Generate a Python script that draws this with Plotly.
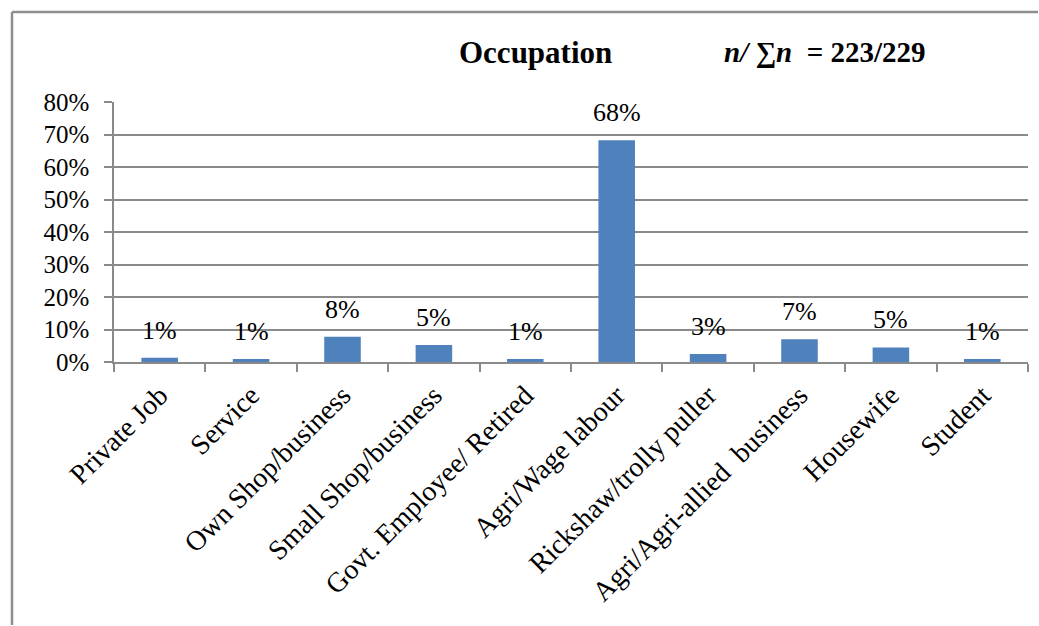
import plotly.graph_objects as go

categories = ["Private Job", "Service", "Own Shop/business", "Small Shop/business",
              "Govt. Employee/ Retired", "Agri/Wage labour", "Rickshaw/trolly puller",
              "Agri/Agri-allied  business", "Housewife", "Student"]
values = [0.013, 0.009, 0.078, 0.052, 0.009, 0.682, 0.025, 0.070, 0.045, 0.009]
value_labels = ["1%", "1%", "8%", "5%", "1%", "68%", "3%", "7%", "5%", "1%"]
y_ticks = [0, 0.1, 0.2, 0.3, 0.4, 0.5, 0.6, 0.7, 0.8]
y_tick_labels = ["0%", "10%", "20%", "30%", "40%", "50%", "60%", "70%", "80%"]

FONT = "Liberation Serif"
GRID = "#8a8a8a"

fig = go.Figure()
fig.add_trace(go.Bar(x=categories, y=values, marker_color="#4F81BD",
                     marker_line_width=0))

for c, v, t in zip(categories, values, value_labels):
    fig.add_annotation(x=c, y=v, text=t, showarrow=False, yanchor="bottom",
                       yshift=11, font=dict(family=FONT, size=26, color="#000"))

fig.add_annotation(xref="paper", yref="paper", x=(535 - 114) / 914, y=(362 - 52) / 260,
                   text="<b>Occupation</b>", showarrow=False, xanchor="center", yanchor="middle",
                   font=dict(family=FONT, size=31, color="#000"))
fig.add_annotation(xref="paper", yref="paper", x=(722 - 114) / 914, y=(362 - 52) / 260,
                   text="<b><i>n/ ∑n</i>  = 223/229</b>", showarrow=False, xanchor="left", yanchor="middle",
                   font=dict(family=FONT, size=29, color="#000"))

# outer chart border (top and left edges visible in the crop), kept inside the canvas
bx = (12 - 114) / 914
by = (362 - 12) / 260
x_right = (1038 - 114) / 914
y_bottom = (362 - 625) / 260
fig.add_shape(type="line", xref="paper", yref="paper", x0=bx, x1=x_right, y0=by, y1=by,
              line=dict(color="#8e8e8e", width=2.5))
fig.add_shape(type="line", xref="paper", yref="paper", x0=bx, x1=bx, y0=by, y1=y_bottom,
              line=dict(color="#8e8e8e", width=2.5))

fig.update_layout(
    width=1039, height=626,
    margin=dict(l=114, r=11, t=102, b=264),
    paper_bgcolor="white", plot_bgcolor="white",
    bargap=0.6, showlegend=False,
    font=dict(family=FONT, size=25, color="#000"),
)
fig.update_yaxes(range=[0, 0.8], tickvals=y_ticks, ticktext=y_tick_labels,
                 showgrid=True, gridcolor=GRID, gridwidth=1.5,
                 showline=True, linecolor=GRID, linewidth=1.5,
                 ticks="outside", ticklen=8, tickcolor=GRID, tickwidth=1.5,
                 ticklabelstandoff=10, zeroline=False,
                 tickfont=dict(family=FONT, size=25, color="#000"))
fig.update_xaxes(showline=True, linecolor=GRID, linewidth=1.5,
                 ticks="outside", ticklen=8, tickcolor=GRID, tickwidth=1.5,
                 tickson="boundaries", tickangle=-45, showgrid=False,
                 ticklabelstandoff=4,
                 tickfont=dict(family=FONT, size=28, color="#000"))

fig.write_html("out.html")
